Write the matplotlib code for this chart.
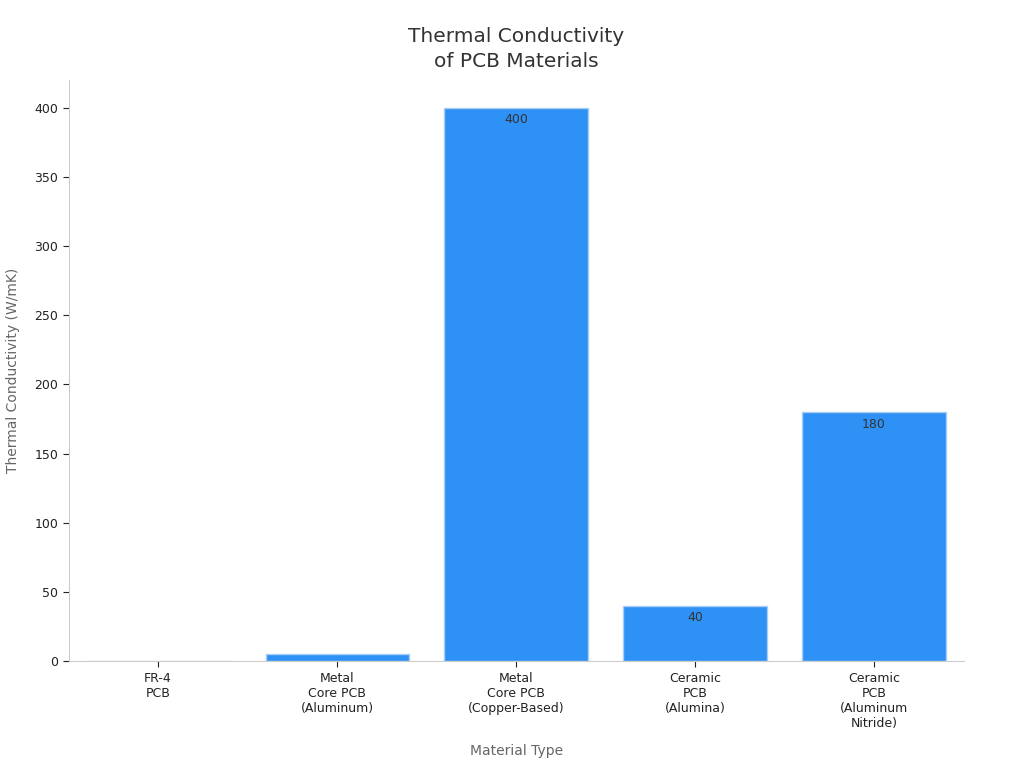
import matplotlib.pyplot as plt

materials = ['FR-4\nPCB', 'Metal\nCore PCB\n(Aluminum)', 'Metal\nCore PCB\n(Copper-Based)',
             'Ceramic\nPCB\n(Alumina)', 'Ceramic\nPCB\n(Aluminum\nNitride)']
conductivity = [0.3, 5, 400, 40, 180]
bar_labels = ['', '', '400', '40', '180']


if __name__ == '__main__':

    fig = plt.figure(figsize=(10.24, 7.68), dpi=100)
    ax = fig.add_axes([0.067, 0.139, 0.874, 0.757])

    bars = ax.bar(range(len(materials)), conductivity, width=0.8,
                  color='#2e91f5', edgecolor='#a9cdf5', linewidth=1)
    bars[0].set_facecolor('#c7dcef')
    bars[0].set_edgecolor('#c7dcef')

    for b, lab in zip(bars, bar_labels):
        if lab:
            ax.text(b.get_x() + b.get_width() / 2, b.get_height() - 4, lab,
                    ha='center', va='top', fontsize=9, color='#333333')

    ax.set_xlim(-0.5, 4.5)
    ax.set_ylim(0, 420)
    ax.set_xticks(range(len(materials)))
    ax.set_xticklabels(materials, fontsize=9, color='#222222')
    ax.set_yticks(range(0, 401, 50))
    ax.tick_params(axis='y', labelsize=9, colors='#222222', length=4)
    ax.tick_params(axis='x', length=4, colors='#222222')
    for t in ax.get_yticklines() + ax.get_xticklines():
        t.set_color('#888888')

    for s in ['top', 'right']:
        ax.spines[s].set_visible(False)
    for s in ['left', 'bottom']:
        ax.spines[s].set_color('#cccccc')

    ax.set_xlabel('Material Type', fontsize=10, color='#666666', labelpad=10)
    ax.set_ylabel('Thermal Conductivity (W/mK)', fontsize=10, color='#666666', labelpad=10)
    ax.set_title('Thermal Conductivity\nof PCB Materials', fontsize=14.5, color='#333333',
                 pad=9, linespacing=1.4)

    plt.savefig('out.png', dpi=100)
